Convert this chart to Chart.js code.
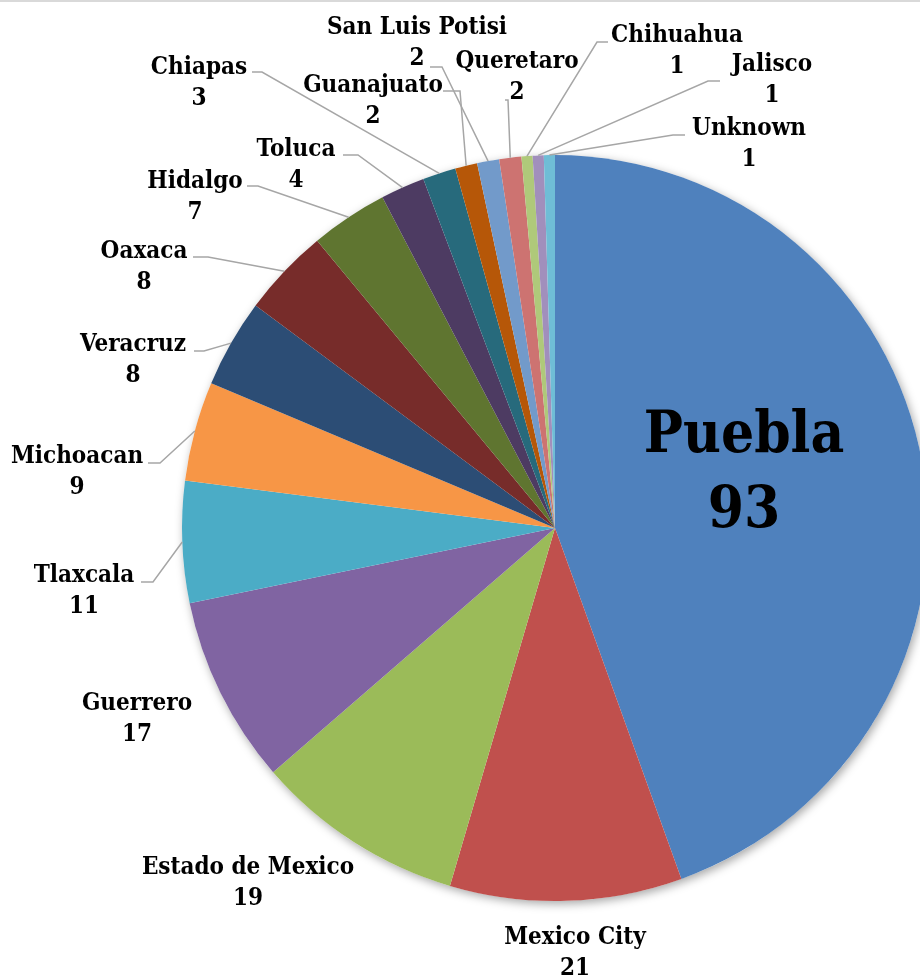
<!DOCTYPE html>
<html>
<head>
<meta charset="utf-8">
<script src="https://cdn.jsdelivr.net/npm/chart.js@4"></script>
<style>
  body { margin: 0; background: #fff; }
  #wrap { position: relative; width: 920px; height: 977px; overflow: hidden; }
  #topline { position: absolute; left: 0; top: 0; width: 920px; height: 2px; background: #d9d9d9; }
  #chart { position: absolute; left: 0; top: 0; }
</style>
</head>
<body>
<div id="wrap">
  <canvas id="chart" width="1110" height="977"></canvas>
  <div id="topline"></div>
</div>
<script>
const states = [
  'Puebla', 'Mexico City', 'Estado de Mexico', 'Guerrero', 'Tlaxcala',
  'Michoacan', 'Veracruz', 'Oaxaca', 'Hidalgo', 'Toluca', 'Chiapas',
  'Guanajuato', 'San Luis Potisi', 'Queretaro', 'Chihuahua', 'Jalisco', 'Unknown'
];
const counts = [93, 21, 19, 17, 11, 9, 8, 8, 7, 4, 3, 2, 2, 2, 1, 1, 1];

const sliceColors = [
  '#4f81bd', '#c0504d', '#9bbb59', '#8064a2', '#4bacc6', '#f79646',
  '#2c4d75', '#772c2a', '#5f7530', '#4d3b62', '#276a7c', '#b65708',
  '#729aca', '#cd7371', '#afc97a', '#a18fbc', '#6fbdd6'
];

// label placement: text centre x, baseline of the name, optional leader start + knee x
const labelPos = [
  { x: 744, y: 452, gap: 75, big: true },
  { x: 575, y: 944 },
  { x: 248, y: 874 },
  { x: 137, y: 710 },
  { x: 84,  y: 582, lead: [141, 582, 153] },
  { x: 77,  y: 463, lead: [148, 463, 160] },
  { x: 133, y: 351, lead: [194, 351, 204] },
  { x: 144, y: 258, lead: [193, 257, 208] },
  { x: 195, y: 188, lead: [247, 186, 258] },
  { x: 296, y: 156, lead: [343, 155, 358] },
  { x: 199, y: 74,  lead: [252, 72, 262] },
  { x: 373, y: 92,  lead: [443, 91, 460] },
  { x: 417, y: 34,  lead: [430, 67, 442] },
  { x: 517, y: 68,  lead: [505, 100, 508] },
  { x: 677, y: 42,  lead: [608, 42, 597] },
  { x: 772, y: 71,  lead: [720, 81, 708] },
  { x: 749, y: 135, lead: [685, 135, 673] }
];

const labelFont = '"DejaVu Serif Condensed", "DejaVu Serif", serif';

// soft shadow under the whole pie
const pieShadow = {
  id: 'pieShadow',
  beforeDatasetsDraw(chart) {
    const arc = chart.getDatasetMeta(0).data[0];
    const ctx = chart.ctx;
    ctx.save();
    ctx.shadowColor = 'rgba(0,0,0,0.35)';
    ctx.shadowBlur = 10;
    ctx.shadowOffsetX = 2;
    ctx.shadowOffsetY = 3;
    ctx.fillStyle = '#ffffff';
    ctx.beginPath();
    ctx.arc(arc.x, arc.y, arc.outerRadius, 0, Math.PI * 2);
    ctx.fill();
    ctx.restore();
  }
};

const sliceLabels = {
  id: 'sliceLabels',
  afterDatasetsDraw(chart) {
    const ctx = chart.ctx;
    const arcs = chart.getDatasetMeta(0).data;
    ctx.save();
    arcs.forEach((arc, i) => {
      const p = labelPos[i];

      // leader line to the middle of the slice edge
      if (p.lead) {
        const mid = (arc.startAngle + arc.endAngle) / 2;
        const ex = arc.x + arc.outerRadius * Math.cos(mid);
        const ey = arc.y + arc.outerRadius * Math.sin(mid);
        ctx.strokeStyle = '#a6a6a6';
        ctx.lineWidth = 1.5;
        ctx.beginPath();
        ctx.moveTo(p.lead[0], p.lead[1]);
        ctx.lineTo(p.lead[2], p.lead[1]);
        ctx.lineTo(ex, ey);
        ctx.stroke();
      }

      ctx.fillStyle = '#000000';
      ctx.textAlign = 'center';
      ctx.textBaseline = 'alphabetic';
      ctx.font = 'bold ' + (p.big ? 58 : 24) + 'px ' + labelFont;
      ctx.fillText(states[i], p.x, p.y);
      ctx.fillText(String(counts[i]), p.x, p.y + (p.gap || 31));
    });
    ctx.restore();
  }
};

new Chart(document.getElementById('chart'), {
  type: 'pie',
  data: {
    labels: states,
    datasets: [{
      data: counts,
      backgroundColor: sliceColors,
      borderWidth: 0
    }]
  },
  options: {
    responsive: false,
    animation: false,
    layout: { padding: { top: 155, bottom: 76, left: 182, right: 182 } },
    plugins: {
      legend: { display: false },
      tooltip: { enabled: false }
    }
  },
  plugins: [pieShadow, sliceLabels]
});
</script>
</body>
</html>
